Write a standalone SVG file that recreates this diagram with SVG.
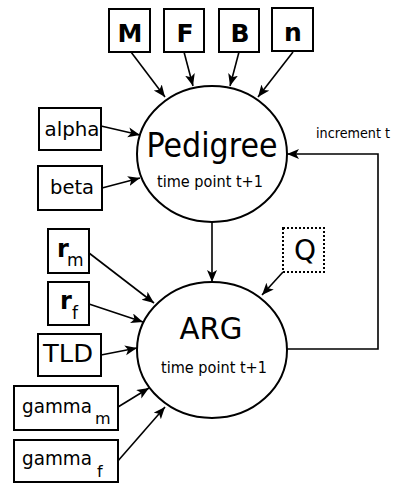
<svg xmlns="http://www.w3.org/2000/svg" width="401" height="483" viewBox="0 0 401 483">
  <style>
    .box { fill: #ffffff; stroke: #000000; stroke-width: 2; }
    .dotted { fill: #ffffff; stroke: #000000; stroke-width: 2; stroke-dasharray: 2 2; }
    .node { fill: #ffffff; stroke: #000000; stroke-width: 2; }
    .edge { fill: none; stroke: #000000; stroke-width: 1.6; marker-end: url(#head); }
    text { font-family: "DejaVu Sans", Verdana, sans-serif; fill: #000000; }
    .bold { font-weight: bold; font-size: 25px; text-anchor: middle; }
    .lbl { font-size: 20px; text-anchor: middle; }
    .sub { font-size: 15.5px; text-anchor: middle; }
  </style>
  <defs>
    <marker id="head" markerUnits="userSpaceOnUse" markerWidth="14" markerHeight="12" refX="12" refY="5" orient="auto">
      <path d="M0,0 L12,5 L0,10 L3,5 z" fill="#000000"/>
    </marker>
  </defs>

  <!-- connectors -->
  <g id="connectors">
    <line class="edge" x1="131" y1="52" x2="165" y2="97"/>
    <line class="edge" x1="184" y1="52" x2="193" y2="86"/>
    <line class="edge" x1="239" y1="52" x2="230" y2="86"/>
    <line class="edge" x1="293" y1="52" x2="258" y2="97"/>
    <line class="edge" x1="101" y1="126" x2="140" y2="135"/>
    <line class="edge" x1="102" y1="188" x2="140" y2="178"/>
    <line class="edge" x1="212" y1="222" x2="212" y2="282"/>
    <line class="edge" x1="283" y1="272" x2="262" y2="295"/>
    <polyline class="edge" points="286,349 378,349 378,154 287,154"/>
    <line class="edge" x1="89" y1="253" x2="154" y2="303"/>
    <line class="edge" x1="89" y1="304" x2="143" y2="322"/>
    <line class="edge" x1="101" y1="355" x2="137" y2="348"/>
    <line class="edge" x1="118" y1="407" x2="149" y2="388"/>
    <line class="edge" x1="117" y1="462" x2="165" y2="407"/>
  </g>

  <!-- loop label -->
  <text x="316" y="138" font-size="14" textLength="74" lengthAdjust="spacingAndGlyphs">increment t</text>

  <!-- top inputs -->
  <g id="M"><rect class="box" x="109" y="9" width="41" height="43"/><text class="bold" x="130" y="42">M</text></g>
  <g id="F"><rect class="box" x="164" y="9" width="40" height="43"/><text class="bold" x="185" y="42">F</text></g>
  <g id="B"><rect class="box" x="219" y="9" width="40" height="43"/><text class="bold" x="240" y="42">B</text></g>
  <g id="n"><rect class="box" x="272" y="8" width="41" height="43"/><text class="bold" x="293" y="41">n</text></g>

  <!-- left inputs of Pedigree -->
  <g id="alpha"><rect class="box" x="39" y="108" width="62" height="42"/><text class="lbl" x="72" y="136" textLength="55" lengthAdjust="spacingAndGlyphs">alpha</text></g>
  <g id="beta"><rect class="box" x="38" y="166" width="64" height="44"/><text class="lbl" x="72" y="194" textLength="44" lengthAdjust="spacingAndGlyphs">beta</text></g>

  <!-- Pedigree node -->
  <g id="pedigree">
    <ellipse class="node" cx="212" cy="154" rx="75" ry="68"/>
    <text x="212" y="157" font-size="34" text-anchor="middle" textLength="131" lengthAdjust="spacingAndGlyphs">Pedigree</text>
    <text class="sub" x="210" y="187" textLength="106" lengthAdjust="spacingAndGlyphs">time point t+1</text>
  </g>

  <!-- Q -->
  <g id="Q"><rect class="dotted" x="283" y="228" width="41" height="44"/><text x="305" y="260" font-size="28" text-anchor="middle">Q</text></g>

  <!-- left inputs of ARG -->
  <g id="rm"><rect class="box" x="48" y="229" width="41" height="44"/>
    <text x="57" y="257" font-size="24" font-weight="bold">r</text><text x="67" y="266" font-size="17">m</text></g>
  <g id="rf"><rect class="box" x="48" y="282" width="41" height="43"/>
    <text x="60" y="309" font-size="24" font-weight="bold">r</text><text x="72" y="319" font-size="17">f</text></g>
  <g id="TLD"><rect class="box" x="38" y="334" width="63" height="42"/><text x="68" y="362" font-size="25" text-anchor="middle" textLength="50" lengthAdjust="spacingAndGlyphs">TLD</text></g>
  <g id="gamma_m"><rect class="box" x="14" y="386" width="104" height="44"/>
    <text x="22" y="413" font-size="20" textLength="70" lengthAdjust="spacingAndGlyphs">gamma</text><text x="95" y="424" font-size="16">m</text></g>
  <g id="gamma_f"><rect class="box" x="14" y="440" width="104" height="42"/>
    <text x="22" y="465" font-size="20" textLength="70" lengthAdjust="spacingAndGlyphs">gamma</text><text x="97" y="477" font-size="16">f</text></g>

  <!-- ARG node -->
  <g id="arg">
    <ellipse class="node" cx="212" cy="350" rx="75" ry="68"/>
    <text x="211" y="339" font-size="31" text-anchor="middle" textLength="63" lengthAdjust="spacingAndGlyphs">ARG</text>
    <text class="sub" x="214" y="373" textLength="106" lengthAdjust="spacingAndGlyphs">time point t+1</text>
  </g>
</svg>
